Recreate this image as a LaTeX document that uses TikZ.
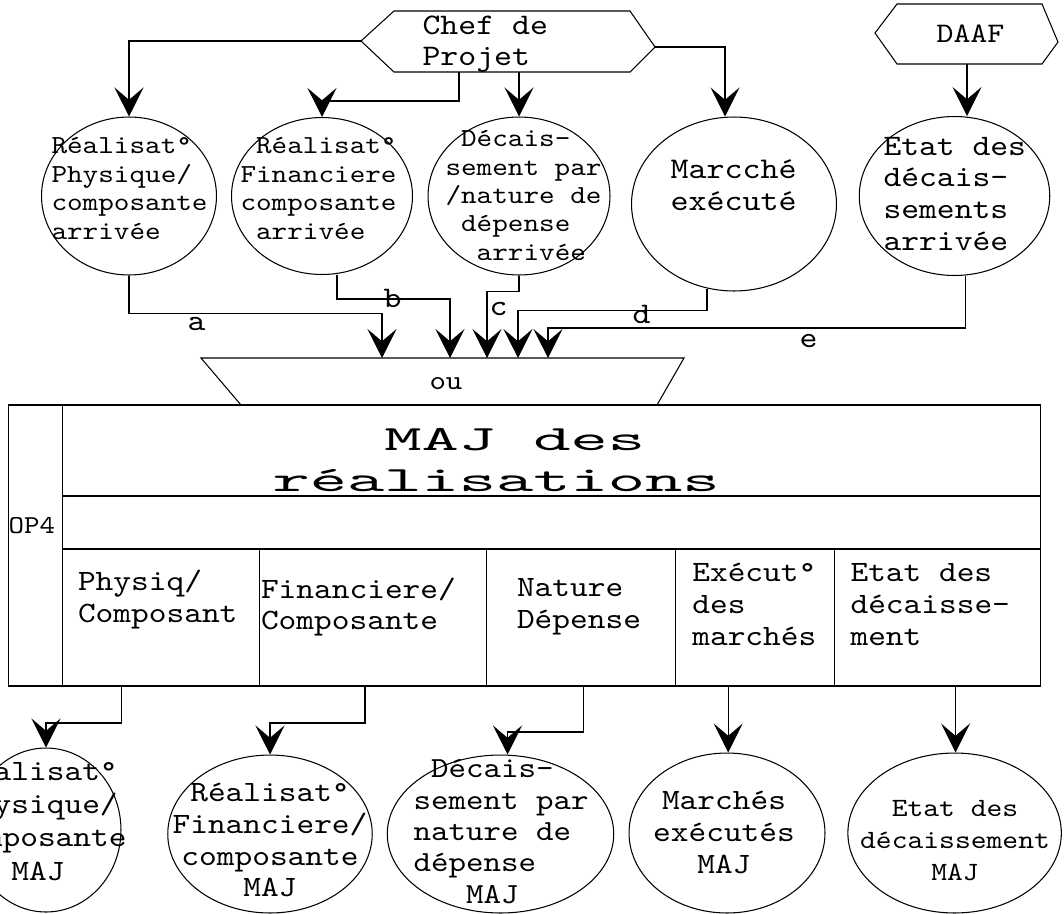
\documentclass[tikz,border=0pt]{standalone}
\usepackage{fontspec}
\setmonofont[Extension=.otf, UprightFont=*-regular, FakeStretch=1.143]{lmmono10}
\newfontfamily\widemono[Extension=.otf, UprightFont=*-regular, FakeStretch=2.0]{lmmono10}
\usetikzlibrary{arrows.meta,shapes.geometric,calc}
\newcommand{\monosz}[2]{\ttfamily\fontsize{#1}{#2}\selectfont}

\tikzset{
  flot/.style={draw, ellipse, inner sep=0pt},
  lbl/.style={inner sep=0pt, anchor=base west, align=left},
  clbl/.style={inner sep=0pt, anchor=base, align=center},
  fl/.style={-{Stealth[length=16.5pt,width=16.5pt,inset=7pt]}},
}

\begin{document}
\begin{tikzpicture}[x=0.02cm, y=-0.02cm, line width=0.6pt]
  \useasboundingbox (0,0) rectangle (1064,913);

  % sources (text nodes sit on the baseline of their last line)
  \draw (361,41) coordinate (chefW) -- (394,11) -- (630,11) -- (655,47) coordinate (chefE)
        -- (630,72) -- (519,72) coordinate (chefS2) -- (459,72) coordinate (chefS1) -- (394,72) -- cycle;
  \node[lbl, font=\monosz{17}{17.1}] (chef) at (422,65) {Chef de\\Projet};
  \draw (875,33) -- (897,4) -- (1042,4) -- (1058,42) -- (1042,64) -- (967,64) coordinate (daafS) -- (897,64) -- cycle;
  \node[lbl, font=\monosz{16.1}{18}] (daaf) at (936,42.7) {DAAF};

  % flux arrivés
  \node[flot, minimum width=3.5cm, minimum height=3.16cm] (rphys) at (129,196) {};
  \node[flot, minimum width=3.62cm, minimum height=3.14cm] (rfin) at (322,196) {};
  \node[flot, minimum width=3.64cm, minimum height=3.16cm] (dnat) at (519,196) {};
  \node[flot, minimum width=4.1cm, minimum height=3.48cm] (march) at (734,204) {};
  \node[flot, minimum width=3.81cm, minimum height=3.18cm] (etat) at (954.5,196) {};

  \node[lbl, font=\monosz{14.8}{16.3}] (trphys) at (51,239.3) {Réalisat°\\Physique/\\composante\\arrivée};
  \node[lbl, font=\monosz{14.8}{16.3}] (trfin) at (240,239.3) {\ Réalisat°\\Financiere\\composante\\\ arrivée};
  \node[lbl, font=\monosz{14.8}{16.1}] (tdnat) at (445,260) {\ Décais-\\sement par\\/nature de\\\ dépense\\\ \ arrivée};
  \node[lbl, font=\monosz{17.1}{18.4}] (tmarch) at (670,210.7) {Marcché\\exécuté};
  \node[lbl, font=\monosz{16.9}{18}] (tetat) at (883,250) {Etat des\\décais-\\sements\\arrivée};

  \draw[fl] (chefW) -| (rphys.north);
  \draw[fl] (chefS1) -- ++(0,29) -| (rfin.north);
  \draw[fl] (chefS2) -- (dnat.north);
  \draw[fl] (chefE) -| ($(march.north)+(-9,0)$);
  \draw[fl] (daafS) -- (daafS |- etat.north);

  % ou
  \draw (201,358) -- (382,358) coordinate (ina) -- (450,358) coordinate (inb)
        -- (487,358) coordinate (inc) -- (518,358) coordinate (ind) -- (548,358) coordinate (ine)
        -- (684,358) -- (657,405) -- (241,405) -- cycle;
  \node[lbl, font=\monosz{15.6}{18}] (ou) at (429,389) {ou};

  \draw[fl] (rphys.south) -- ++(0,38) -| (ina);
  \draw[fl] ($(rfin.south)+(15,0)$) -- ++(0,24) -| (inb);
  \draw[fl] (dnat.south) -- ++(0,16) -| (inc);
  \draw[fl] ($(march.south)+(-27,-3)$) -- ++(0,22) -| (ind);
  \draw[fl] ($(etat.south)+(11,0)$) -- ++(0,52) -| (ine);

  \node[lbl, font=\monosz{17}{18}] (la) at (187,330) {a};
  \node[lbl, font=\monosz{17}{18}] (lb) at (383,307) {b};
  \node[lbl, font=\monosz{17}{18}] (lc) at (489,315) {c};
  \node[lbl, font=\monosz{17}{18}] (ld) at (632,323) {d};
  \node[lbl, font=\monosz{17}{18}] (le) at (799,347) {e};

  % OP4
  \draw (8.6,405) rectangle (1040.5,686);
  \draw (62.3,405) -- (62.3,686);
  \draw (62.3,496) -- (1040.5,496);
  \draw (62.3,549) -- (1040.5,549);
  \foreach \x in {259.6,486.6,675.4,834.4}
    \draw (\x,549) -- (\x,686);
  \foreach \x [count=\i] in {121.6,365,583.5,728.2,955.5}
    \coordinate (s\i) at (\x,686);

  \node[lbl, font=\monosz{14.7}{16}] (op) at (8,533.3) {OP4};
  \node[lbl, font={\widemono\fontsize{20.2}{23.3}\selectfont}] (maj) at (272,491) {\ \ \ MAJ des\\réalisations};
  \node[lbl, font=\monosz{16.8}{18.2}] (c1t) at (77.5,622.7) {Physiq/\\Composant};
  \node[lbl, font=\monosz{16.8}{17.5}] (c2t) at (260.5,629) {Financiere/\\Composante};
  \node[lbl, font=\monosz{16.8}{18}] (c3t) at (516.5,628.3) {Nature\\Dépense};
  \node[lbl, font=\monosz{16.8}{18}] (c4t) at (691.8,645) {Exécut°\\des\\marchés};
  \node[lbl, font=\monosz{16.8}{18}] (c5t) at (850,645) {Etat des\\décaisse-\\ment};

  % flux MAJ
  \node[flot, minimum width=3cm, minimum height=3.28cm] (b1) at (46,830) {};
  \node[flot, minimum width=4.09cm, minimum height=3.16cm] (b2) at (270,834) {};
  \node[flot, minimum width=4.53cm, minimum height=3.16cm] (b3) at (500.5,834) {};
  \node[flot, minimum width=3.92cm, minimum height=3.2cm] (b4) at (727,833) {};
  \node[flot, minimum width=4.27cm, minimum height=3.2cm] (b5) at (954.6,833) {};

  \draw[fl] (s1) -- ++(0,37) -| (b1.north);
  \draw[fl] (s2) -- ++(0,37) -| (b2.north);
  \draw[fl] (s3) -- ++(0,46) -| ($(b3.north)+(7,0)$);
  \draw[fl] (s4) -- (s4 |- b4.north);
  \draw[fl] (s5) -- (s5 |- b5.north);

  \node[clbl, font=\monosz{16.8}{18.8}] (tb1) at (38,880) {Réalisat°\\Physique/\\composante\\MAJ};
  \node[clbl, font=\monosz{16.8}{18}] (tb2) at (270,896.7) {Réalisat°\\Financiere/\\composante\\MAJ};
  \node[lbl, font=\monosz{16.6}{17.8}] (tb3) at (413,903) {\ Décais-\\sement par\\nature de\\dépense\\\ \ \ MAJ};
  \node[clbl, font=\monosz{16.8}{18}] (tb4) at (724,873) {Marchés\\exécutés\\MAJ};
  \node[clbl, font=\monosz{15}{18}] (tb5) at (955,880) {Etat des\\décaissement\\MAJ};
\end{tikzpicture}
\end{document}
